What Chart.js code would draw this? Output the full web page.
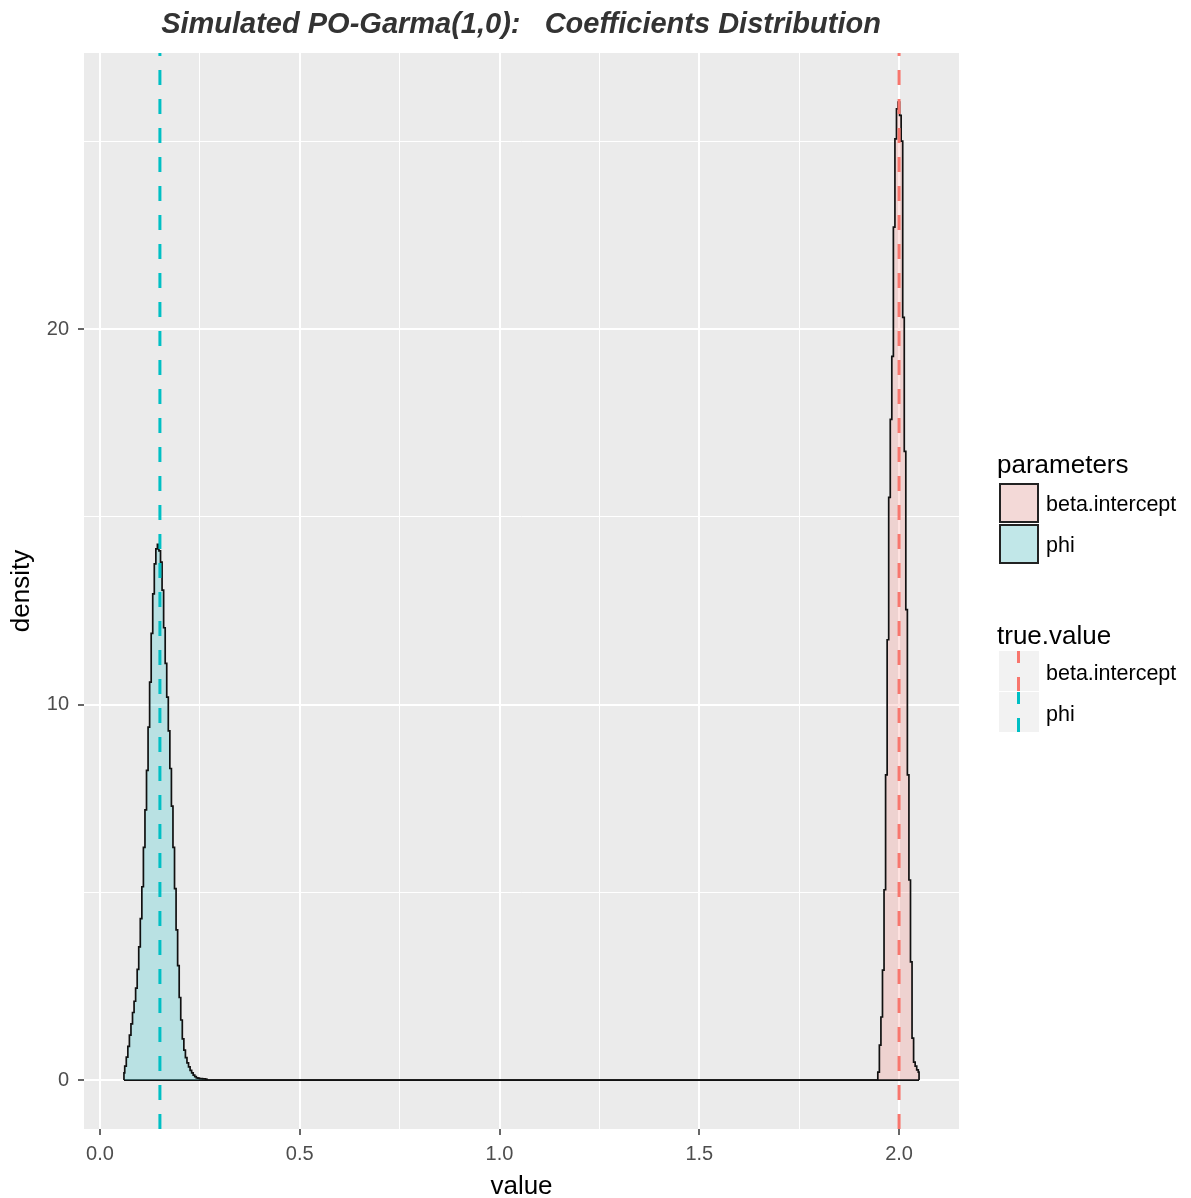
<!DOCTYPE html>
<html>
<head>
<meta charset="utf-8">
<script src="https://cdn.jsdelivr.net/npm/chart.js@4.4.1/dist/chart.umd.min.js"></script>
<style>
  html, body { margin: 0; padding: 0; background: #ffffff; }
  #wrap { position: relative; width: 1191px; height: 1198px; font-family: "Liberation Sans", Arial, sans-serif; }
  #c { position: absolute; left: 0; top: 0; }
  .txt { position: absolute; white-space: pre; line-height: 1; color: #000; }
  .key { position: absolute; width: 40px; height: 40px; box-sizing: border-box; }
  .dash { position: absolute; width: 3px; }
</style>
</head>
<body>
<div id="wrap">
  <canvas id="c" width="1191" height="1198"></canvas>
  <div class="txt" id="plotTitle"></div>
  <div id="legend"></div>
</div>
<script>
// Kernel density estimates evaluated on ggplot's default grid (n = 512 between the data extremes)
const gridFrom = 0.06;
const gridTo = 2.05;
const gridN = 512;

const parameterNames = ['beta.intercept', 'phi'];
const trueValues = [2.0, 0.15];
const seriesColors = ['#F8766D', '#00BFC4'];

// phi density, grid points 0..54 (zero beyond)
const phiStartIndex = 0;
const phiDensity = [
  0.19, 0.37, 0.61, 0.90, 1.20, 1.50, 1.80, 2.10, 2.45, 2.95,
  3.55, 4.30, 5.15, 6.20, 7.20, 8.25, 9.40, 10.60, 11.90, 12.95,
  13.75, 14.15, 14.27, 14.10, 13.80, 13.05, 12.05, 11.10, 10.20, 9.30,
  8.30, 7.30, 6.20, 5.10, 4.00, 3.05, 2.20, 1.60, 1.10, 0.80,
  0.60, 0.46, 0.35, 0.26, 0.19, 0.13, 0.09, 0.06, 0.05, 0.04,
  0.04, 0.03, 0.03, 0.02, 0.00
];

// beta.intercept density, grid points 484..511 (zero before)
const betaStartIndex = 484;
const betaDensity = [
  0.00, 0.21, 0.93, 1.68, 2.93, 5.07, 8.13, 11.73, 15.52, 17.60,
  19.28, 22.72, 25.07, 25.87, 26.05, 25.70, 25.01, 20.32, 16.75, 12.53,
  8.13, 5.33, 3.15, 1.12, 0.48, 0.37, 0.27, 0.21
];

// axis ticks (labelled majors, unlabelled minors)
const xTicks = [0, 0.25, 0.5, 0.75, 1.0, 1.25, 1.5, 1.75, 2.0];
const xMajor = [0, 0.5, 1.0, 1.5, 2.0];
const yTicks = [0, 5, 10, 15, 20, 25];
const yMajor = [0, 10, 20];

const xRange = [-0.04, 2.15];
const yRange = [-1.303, 27.36];

const gridX = i => gridFrom + (gridTo - gridFrom) * i / (gridN - 1);

// closed polygon: baseline from first grid point, density, back to baseline at last grid point
function densityPolygon(values, startIndex) {
  const pts = [{ x: gridX(0), y: 0 }];
  if (startIndex > 0) pts.push({ x: gridX(startIndex), y: 0 });
  values.forEach((v, k) => pts.push({ x: gridX(startIndex + k), y: v }));
  pts.push({ x: gridX(gridN - 1), y: 0 });
  return pts;
}

function hexA(hex, a) {
  const n = parseInt(hex.slice(1), 16);
  return `rgba(${(n >> 16) & 255},${(n >> 8) & 255},${n & 255},${a})`;
}

const isIn = (arr, v) => arr.some(m => Math.abs(m - v) < 1e-9);

const panelBg = {
  id: 'panelBg',
  beforeDraw(chart) {
    const { ctx, chartArea: a } = chart;
    ctx.save();
    ctx.fillStyle = '#ebebeb';
    ctx.fillRect(a.left, a.top, a.right - a.left, a.bottom - a.top);
    ctx.restore();
  }
};

Chart.defaults.font.family = '"Liberation Sans", Arial, sans-serif';

const densitySets = [
  { values: betaDensity, start: betaStartIndex },
  { values: phiDensity, start: phiStartIndex }
];

const datasets = [];
// true-value reference lines, drawn on top
trueValues.forEach((v, i) => {
  datasets.push({
    label: 'true ' + parameterNames[i],
    data: [{ x: v, y: yRange[0] }, { x: v, y: yRange[1] }],
    borderColor: seriesColors[i],
    borderWidth: 3,
    borderDash: [15, 14],
    pointRadius: 0,
    fill: false,
    order: 0
  });
});
// densities: beta.intercept first (bottom), phi above it
densitySets.forEach((d, i) => {
  datasets.push({
    label: parameterNames[i],
    data: densityPolygon(d.values, d.start),
    borderColor: '#111111',
    borderWidth: 1.7,
    backgroundColor: hexA(seriesColors[i], 0.21),
    fill: 'origin',
    stepped: 'middle',
    pointRadius: 0,
    order: i === 0 ? 2 : 1
  });
});

new Chart(document.getElementById('c'), {
  type: 'line',
  data: { datasets },
  options: {
    responsive: false,
    animation: false,
    events: [],
    layout: { padding: { left: 0, top: 53, right: 232, bottom: 0 } },
    plugins: { legend: { display: false }, tooltip: { enabled: false } },
    scales: {
      x: {
        type: 'linear',
        min: xRange[0],
        max: xRange[1],
        afterBuildTicks: s => { s.ticks = xTicks.map(v => ({ value: v })); },
        afterFit: s => { s.height = 69; },
        border: { display: false },
        grid: {
          color: '#ffffff',
          lineWidth: c => (c.tick && isIn(xMajor, c.tick.value)) ? 2 : 1,
          tickColor: c => (c.tick && isIn(xMajor, c.tick.value)) ? '#333333' : 'rgba(0,0,0,0)',
          tickLength: 6,
          tickWidth: 1.5
        },
        ticks: {
          autoSkip: false,
          maxRotation: 0,
          padding: 7,
          color: '#4d4d4d',
          font: { size: 20 },
          callback: v => isIn(xMajor, v) ? v.toFixed(1) : ''
        },
        title: {
          display: true,
          text: 'value',
          color: '#000000',
          font: { size: 26, lineHeight: 1 },
          padding: { top: 0, bottom: -2 }
        }
      },
      y: {
        type: 'linear',
        min: yRange[0],
        max: yRange[1],
        afterBuildTicks: s => { s.ticks = yTicks.map(v => ({ value: v })); },
        afterFit: s => { s.width = 84; },
        border: { display: false },
        grid: {
          color: '#ffffff',
          lineWidth: c => (c.tick && isIn(yMajor, c.tick.value)) ? 2 : 1,
          tickColor: c => (c.tick && isIn(yMajor, c.tick.value)) ? '#333333' : 'rgba(0,0,0,0)',
          tickLength: 6,
          tickWidth: 1.5
        },
        ticks: {
          autoSkip: false,
          padding: 9,
          color: '#4d4d4d',
          font: { size: 20 },
          callback: v => isIn(yMajor, v) ? String(v) : ''
        },
        title: {
          display: true,
          text: 'density',
          color: '#000000',
          font: { size: 26, lineHeight: 1 },
          padding: { top: 9, bottom: 0 }
        }
      }
    }
  },
  plugins: [panelBg]
});

// plot title, centred over the panel
const t = document.getElementById('plotTitle');
t.textContent = 'Simulated PO-Garma(1,0):   Coefficients Distribution';
Object.assign(t.style, {
  left: '0px', width: '1042px', textAlign: 'center', top: '9px',
  fontSize: '29px', fontWeight: 'bold', fontStyle: 'italic', color: '#333333'
});

// legends: fill keys for parameters, dashed-line keys for true.value
const lg = document.getElementById('legend');
function addText(text, left, top, size) {
  const d = document.createElement('div');
  d.className = 'txt';
  d.textContent = text;
  Object.assign(d.style, { left: left + 'px', top: top + 'px', fontSize: size + 'px' });
  lg.appendChild(d);
}
addText('parameters', 997, 451, 26);
parameterNames.forEach((name, i) => {
  const top = 483 + i * 41;
  const k = document.createElement('div');
  k.className = 'key';
  Object.assign(k.style, {
    left: '999px', top: top + 'px',
    background: '#f2f2f2',
    boxShadow: 'inset 0 0 0 40px ' + hexA(seriesColors[i], 0.2),
    border: '2px solid #222'
  });
  lg.appendChild(k);
  addText(name, 1046, top + 11, 21.5);
});
addText('true.value', 997, 622, 26);
parameterNames.forEach((name, i) => {
  const top = 651 + i * 41;
  const k = document.createElement('div');
  k.className = 'key';
  Object.assign(k.style, { left: '999px', top: top + 'px', background: '#f2f2f2' });
  lg.appendChild(k);
  [[0, 12], [26, 14]].forEach(([off, len]) => {
    const s = document.createElement('div');
    s.className = 'dash';
    Object.assign(s.style, { left: '1017px', top: (top + off) + 'px', height: len + 'px', background: seriesColors[i] });
    lg.appendChild(s);
  });
  addText(name, 1046, top + 12, 21.5);
});
</script>
</body>
</html>
